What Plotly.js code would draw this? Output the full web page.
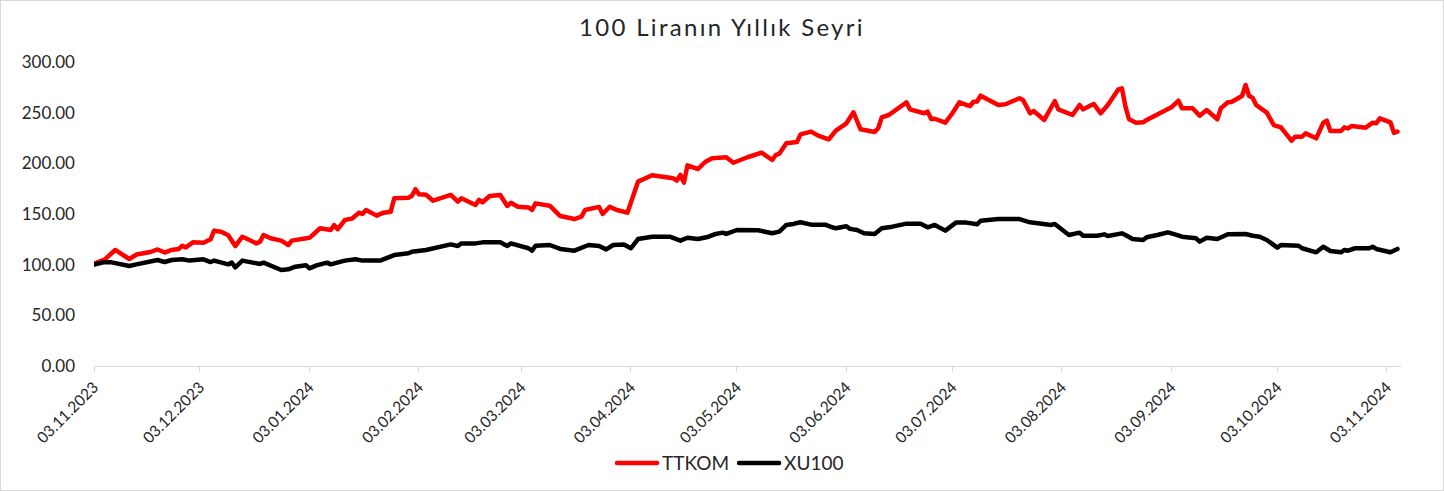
<!DOCTYPE html>
<html><head><meta charset="utf-8">
<script src="https://cdn.plot.ly/plotly-3.0.1.min.js"></script>
<style>
body{margin:0;background:#fff}
#chart{width:1442px;height:489px;border:1px solid #d9d9d9}
.js-line{stroke-linejoin:round;stroke-linecap:round}
.gtitle{letter-spacing:2.3px}
</style></head><body><div id="chart"></div>
<script>
const chartTitle = "100 Liranın Yıllık Seyri";
const seriesNames = ["TTKOM", "XU100"];

const ttkomDates = ["2023-11-03","2023-11-06","2023-11-09","2023-11-13","2023-11-15","2023-11-19","2023-11-21","2023-11-23","2023-11-25","2023-11-27","2023-11-28","2023-11-29","2023-12-01","2023-12-04","2023-12-06","2023-12-07","2023-12-09","2023-12-11","2023-12-13","2023-12-15","2023-12-17","2023-12-19","2023-12-20","2023-12-21","2023-12-23","2023-12-26","2023-12-28","2023-12-29","2024-01-03","2024-01-05","2024-01-06","2024-01-09","2024-01-10","2024-01-11","2024-01-13","2024-01-15","2024-01-17","2024-01-18","2024-01-19","2024-01-22","2024-01-24","2024-01-26","2024-01-27","2024-01-31","2024-02-01","2024-02-02","2024-02-03","2024-02-05","2024-02-07","2024-02-12","2024-02-14","2024-02-15","2024-02-19","2024-02-20","2024-02-21","2024-02-23","2024-02-26","2024-02-28","2024-02-29","2024-03-02","2024-03-05","2024-03-06","2024-03-07","2024-03-11","2024-03-13","2024-03-14","2024-03-18","2024-03-20","2024-03-21","2024-03-25","2024-03-26","2024-03-28","2024-03-30","2024-04-02","2024-04-05","2024-04-09","2024-04-15","2024-04-16","2024-04-17","2024-04-18","2024-04-19","2024-04-22","2024-04-24","2024-04-25","2024-04-26","2024-04-30","2024-05-02","2024-05-06","2024-05-10","2024-05-13","2024-05-14","2024-05-15","2024-05-17","2024-05-20","2024-05-21","2024-05-24","2024-05-26","2024-05-29","2024-05-31","2024-06-03","2024-06-05","2024-06-07","2024-06-11","2024-06-12","2024-06-13","2024-06-15","2024-06-20","2024-06-21","2024-06-25","2024-06-26","2024-06-27","2024-06-28","2024-07-01","2024-07-03","2024-07-05","2024-07-07","2024-07-08","2024-07-09","2024-07-10","2024-07-11","2024-07-16","2024-07-18","2024-07-22","2024-07-23","2024-07-25","2024-07-26","2024-07-29","2024-08-01","2024-08-02","2024-08-06","2024-08-08","2024-08-09","2024-08-12","2024-08-14","2024-08-16","2024-08-19","2024-08-20","2024-08-21","2024-08-22","2024-08-24","2024-08-26","2024-08-27","2024-09-01","2024-09-03","2024-09-05","2024-09-06","2024-09-09","2024-09-11","2024-09-13","2024-09-16","2024-09-17","2024-09-19","2024-09-20","2024-09-23","2024-09-24","2024-09-25","2024-09-26","2024-09-27","2024-09-30","2024-10-02","2024-10-04","2024-10-07","2024-10-08","2024-10-10","2024-10-11","2024-10-14","2024-10-16","2024-10-17","2024-10-18","2024-10-21","2024-10-22","2024-10-23","2024-10-24","2024-10-28","2024-10-30","2024-10-31","2024-11-01","2024-11-04","2024-11-05","2024-11-06"];
const ttkomValues = [101,105,114.5,105.6,110,112.5,115,112,114.5,115.5,118.7,117,122,121.7,125,133.5,132.5,129,118.4,127.6,124.3,121,122.7,129.3,126,123.7,119.4,123.7,126.5,133.2,135.9,134.2,139,135,144,145.4,151.3,150,154,148.4,151.3,152.3,165.5,166,168,174.4,169.4,169,163.1,168.8,162.2,165.5,158.9,163.9,161.6,167.8,168.8,157.9,161,157.2,156.5,154,160.5,158.2,152.3,148,145,147.4,154,157,150,157.2,154,151.3,181.9,188.2,185.2,183,188.5,181,198,194.4,201.3,202.6,205,206,200.6,206,210.5,203.3,208.2,209.5,219.8,221,228.6,231.3,227.3,223.7,232.3,239.5,250.4,233.6,231,234.6,245.4,247.7,260.2,253.3,249.4,251,243.8,244,240.1,249.4,260.2,257.6,256.6,260.8,261,266.8,257.6,258.3,264.2,262.5,249.4,251.7,242.8,261.5,253.3,247.7,257.6,253.3,258.6,249.4,257.6,273,274,256,243.5,240,240.5,242.8,251,255.3,261.8,254.3,254.3,247,252.6,243.5,254.3,260.2,260.5,266.4,277.3,266.4,264.6,257.6,250,237.8,235.5,222.4,226.3,226.3,229.6,224.7,240.1,242.1,231.9,231.9,235.5,234.5,236.8,235.2,240.1,239.5,244.4,240.5,230.2,231.3];

const xu100Dates = ["2023-11-03","2023-11-06","2023-11-08","2023-11-13","2023-11-15","2023-11-18","2023-11-21","2023-11-23","2023-11-25","2023-11-28","2023-11-30","2023-12-04","2023-12-06","2023-12-07","2023-12-11","2023-12-12","2023-12-13","2023-12-15","2023-12-18","2023-12-20","2023-12-21","2023-12-24","2023-12-26","2023-12-28","2023-12-30","2024-01-02","2024-01-03","2024-01-05","2024-01-08","2024-01-09","2024-01-11","2024-01-13","2024-01-16","2024-01-18","2024-01-23","2024-01-27","2024-01-31","2024-02-01","2024-02-05","2024-02-07","2024-02-10","2024-02-12","2024-02-14","2024-02-15","2024-02-19","2024-02-21","2024-02-26","2024-02-28","2024-02-29","2024-03-05","2024-03-06","2024-03-07","2024-03-11","2024-03-14","2024-03-18","2024-03-20","2024-03-22","2024-03-25","2024-03-27","2024-03-29","2024-04-01","2024-04-03","2024-04-05","2024-04-09","2024-04-14","2024-04-17","2024-04-19","2024-04-22","2024-04-25","2024-04-27","2024-04-29","2024-04-30","2024-05-03","2024-05-09","2024-05-13","2024-05-15","2024-05-17","2024-05-19","2024-05-21","2024-05-24","2024-05-28","2024-05-30","2024-05-31","2024-06-03","2024-06-04","2024-06-06","2024-06-08","2024-06-11","2024-06-13","2024-06-16","2024-06-20","2024-06-24","2024-06-26","2024-06-28","2024-07-01","2024-07-04","2024-07-07","2024-07-10","2024-07-11","2024-07-16","2024-07-22","2024-07-25","2024-07-29","2024-07-31","2024-08-01","2024-08-05","2024-08-08","2024-08-09","2024-08-13","2024-08-15","2024-08-16","2024-08-20","2024-08-21","2024-08-23","2024-08-26","2024-08-27","2024-08-30","2024-09-02","2024-09-04","2024-09-06","2024-09-10","2024-09-11","2024-09-13","2024-09-16","2024-09-19","2024-09-24","2024-09-26","2024-09-28","2024-09-30","2024-10-03","2024-10-04","2024-10-09","2024-10-10","2024-10-14","2024-10-16","2024-10-18","2024-10-21","2024-10-22","2024-10-23","2024-10-25","2024-10-29","2024-10-30","2024-10-31","2024-11-04","2024-11-06"];
const xu100Values = [100,102.5,102.3,98.7,100.3,103,104.6,102.6,104.6,105.3,104,105.3,102.6,104,100.3,102,97.4,104,102.3,100.7,102,97,94.7,95.4,98,99.5,96.4,99.3,102,100.3,102.3,104,105.3,104,104,109.5,111.2,112.8,114.5,116.2,119.4,120,118.4,121,121,122,122,118.4,121,116.2,113.8,118.7,119.4,115.5,113.8,116.2,119.4,118.4,115.1,119.4,120,116.2,125.3,127.6,127.6,123.7,126.6,125.3,127.6,130.3,131.6,130.3,134.2,133.9,131,132.6,139.2,140.2,141.8,139.5,139.5,136.9,135.9,137.9,135.3,134.2,131,130.3,135.9,137.5,140.5,140.5,136.9,139.2,133.6,141.5,141.5,139.8,143.4,145,145,141.8,140.2,139.2,140.2,129.3,131.6,128.6,128.6,129.9,128.3,130.9,129.3,125.3,124.3,127,129.3,131.9,129.9,127.6,126,122.7,126.6,125.3,130,130.3,128.6,127.6,124.3,116.8,119.4,118.7,116.2,112.2,117.7,113.5,112.2,114.5,113.8,116.2,116.2,117.7,115.5,112.2,115.5];

const axisStart = "2023-11-03";
const axisEnd = "2024-11-07";

const FONT = "Lato, 'Open Sans', sans-serif";
const traces = [
  {x: ttkomDates, y: ttkomValues, name: seriesNames[0], type: "scatter", mode: "lines",
   line: {color: "#ff0000", width: 4.5}},
  {x: xu100Dates, y: xu100Values, name: seriesNames[1], type: "scatter", mode: "lines",
   line: {color: "#000000", width: 4.5}}
];
const layout = {
  width: 1442, height: 489,
  margin: {l: 93, r: 42, t: 61, b: 124, autoexpand: false},
  paper_bgcolor: "#ffffff", plot_bgcolor: "#ffffff",
  font: {family: FONT, color: "#262626"},
  title: {text: chartTitle, x: 0.5, xanchor: "center", xref: "container",
          y: 0.945, yanchor: "middle", yref: "container",
          font: {family: FONT, size: 24, color: "#262626"}},
  xaxis: {type: "date", range: [axisStart, axisEnd], tick0: axisStart, dtick: "M1",
          tickformat: "%d.%m.%Y", tickangle: -45, showgrid: false, zeroline: false,
          showline: true, linecolor: "#d9d9d9", linewidth: 1, automargin: false,
          ticks: "outside", ticklen: 5, tickcolor: "#d9d9d9",
          tickfont: {family: FONT, size: 15.5, color: "#262626"}},
  yaxis: {range: [0, 300], dtick: 50, tickformat: ".2f", showgrid: false, zeroline: false,
          showline: false, ticks: "", ticklabelstandoff: 18, automargin: false,
          tickfont: {family: FONT, size: 17, color: "#262626"}},
  showlegend: true,
  legend: {orientation: "h", x: 0.487, xanchor: "center", y: 0.055, yref: "container",
           yanchor: "middle",
           font: {family: FONT, size: 19, color: "#262626"}, itemwidth: 40}
};
Plotly.newPlot("chart", traces, layout, {displayModeBar: false, staticPlot: true});
</script></body></html>
